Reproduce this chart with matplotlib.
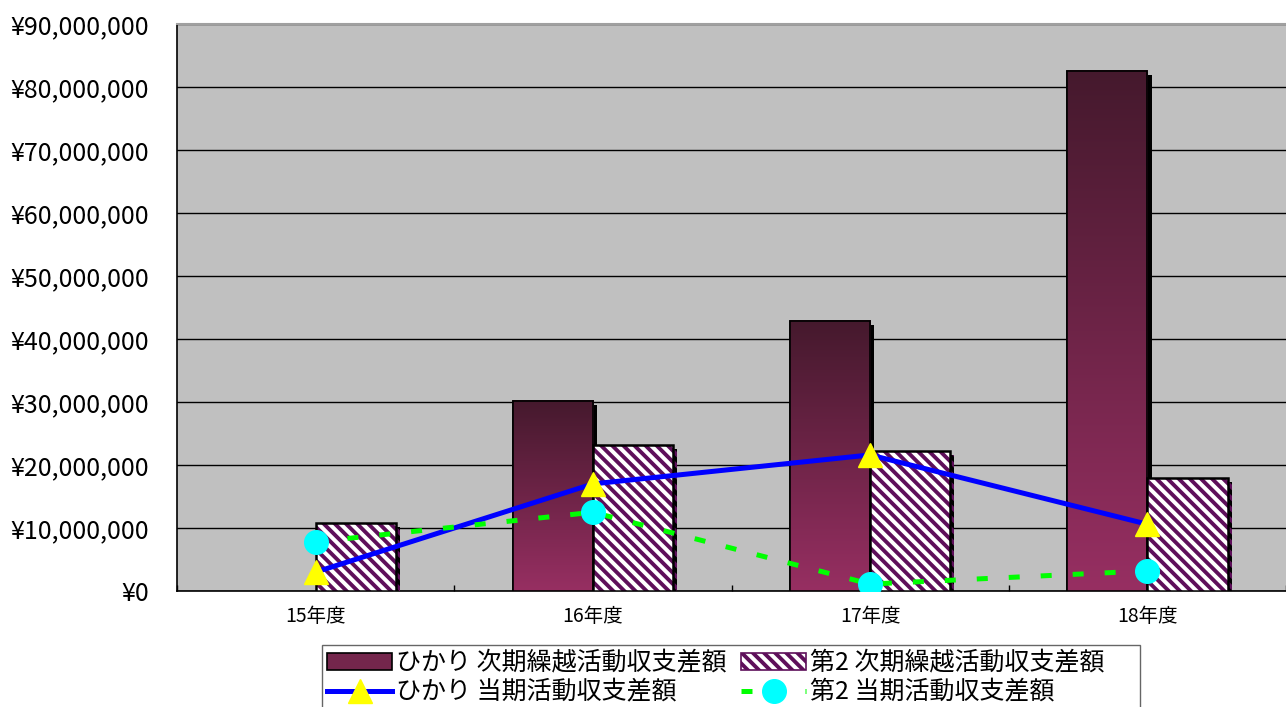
"""
Hikari / Dai-2 activity balance chart: bars (carried-over balance) plus lines (current balance).
"""

import matplotlib
matplotlib.use("Agg")
import matplotlib.pyplot as plt
import matplotlib.patheffects as pe
import numpy as np
from matplotlib.colors import LinearSegmentedColormap
from matplotlib.lines import Line2D
from matplotlib.patches import Rectangle
from matplotlib.ticker import FuncFormatter, MultipleLocator

plt.rcParams["font.family"] = ["Noto Sans CJK JP", "DejaVu Sans"]
plt.rcParams["hatch.linewidth"] = 2.8

# ── Data ──────────────────────────────────────────────────────────────
categories = ["15年度", "16年度", "17年度", "18年度"]
hikari_carry = [0, 30_200_000, 42_900_000, 82_600_000]
dai2_carry = [10_800_000, 23_200_000, 22_200_000, 17_900_000]
hikari_current = [3_000_000, 17_000_000, 21_600_000, 10_600_000]
dai2_current = [7_800_000, 12_500_000, 1_100_000, 3_200_000]

labels = [
    "ひかり 次期繰越活動収支差額",
    "第2 次期繰越活動収支差額",
    "ひかり 当期活動収支差額",
    "第2 当期活動収支差額",
]

HATCH_COL = "#5E0F5A"
HATCH = "\\\\\\"

fig = plt.figure(figsize=(12.86, 7.07), dpi=100)
ax = fig.add_axes([177 / 1286, 1 - 591 / 707, 1 - 177 / 1286, (591 - 24) / 707])
ax.set_facecolor("#C0C0C0")

x = np.arange(len(categories))
w = 0.289
shadow = [pe.SimplePatchShadow(offset=(3, -3), shadow_rgbFace="black", alpha=1.0), pe.Normal()]

# ── Bars ──────────────────────────────────────────────────────────────
grad_cmap = LinearSegmentedColormap.from_list("wine", ["#972F62", "#45192D"])
grad = np.linspace(0, 1, 256).reshape(-1, 1)

dark_bars = ax.bar(x - w / 2, hikari_carry, width=w, facecolor="#7A2850",
                   edgecolor="black", linewidth=1.2, zorder=3, path_effects=shadow)
for rect, val in zip(dark_bars, hikari_carry):
    if val <= 0:
        rect.set_visible(False)
        continue
    x0 = rect.get_x()
    ax.imshow(grad, extent=[x0, x0 + w, 0, val], origin="lower", aspect="auto",
              cmap=grad_cmap, zorder=3.5)
    ax.add_patch(Rectangle((x0, 0), w, val, facecolor="none", edgecolor="black",
                           linewidth=1.2, zorder=3.6))

# hatch colour follows the edge colour, so draw the black outline separately
hatch_bars = ax.bar(x + w / 2, dai2_carry, width=w, facecolor="white",
                    edgecolor=HATCH_COL, hatch=HATCH, linewidth=0.5, zorder=3,
                    path_effects=shadow)
for rect in hatch_bars:
    ax.add_patch(Rectangle((rect.get_x(), 0), w, rect.get_height(),
                           facecolor="none", edgecolor="black",
                           linewidth=1.8, zorder=3.7))

# ── Lines ─────────────────────────────────────────────────────────────
blue_line, = ax.plot(x, hikari_current, color="#0000FF", linewidth=3.6,
                     marker="^", markersize=17, markerfacecolor="#FFFF00",
                     markeredgecolor="#FFFF00", zorder=5)
green_line, = ax.plot(x, dai2_current, color="#00FF00", linewidth=3.6,
                      dashes=(2.2, 4.2), marker="o", markersize=17,
                      markerfacecolor="#00FFFF", markeredgecolor="#00FFFF", zorder=5)

# ── Axes styling ──────────────────────────────────────────────────────
ax.set_xlim(-0.5, len(categories) - 0.5)
ax.set_ylim(0, 90_000_000)
ax.yaxis.set_major_locator(MultipleLocator(10_000_000))
ax.yaxis.set_major_formatter(FuncFormatter(lambda v, _: f"¥{int(v):,}"))
ax.yaxis.grid(True, color="black", linewidth=1.0, zorder=1)
ax.set_axisbelow(True)
ax.tick_params(axis="y", length=0, pad=20, labelsize=18)

ax.set_xticks(x)
ax.set_xticklabels(categories)
ax.set_xticks(np.arange(len(categories) + 1) - 0.5, minor=True)
ax.tick_params(axis="x", which="major", length=0, pad=11, labelsize=14)
ax.tick_params(axis="x", which="minor", direction="in", length=4, width=1)

for side in ("left", "bottom"):
    ax.spines[side].set_color("black")
    ax.spines[side].set_linewidth(1.2)
ax.spines["top"].set_color("#A0A0A0")
ax.spines["top"].set_linewidth(1.5)
ax.spines["right"].set_visible(False)

# ── Legend (proxies, without the bar shadows) ─────────────────────────
h_dark = Rectangle((0, 0), 1, 1, facecolor="#74264C", edgecolor="black", linewidth=1.2)
h_hatch = Rectangle((0, 0), 1, 1, facecolor="white", edgecolor=HATCH_COL,
                    hatch=HATCH, linewidth=1.2)
h_blue = Line2D([], [], color="#0000FF", linewidth=3.6, marker="^", markersize=17,
                markerfacecolor="#FFFF00", markeredgecolor="#FFFF00")
h_green = Line2D([], [], color="#00FF00", linewidth=3.6, dashes=(2.2, 4.2),
                 marker="o", markersize=17, markerfacecolor="#00FFFF",
                 markeredgecolor="#00FFFF")

leg = fig.legend(
    [h_dark, h_blue, h_hatch, h_green],
    [labels[0], labels[2], labels[1] + "\u3000 ", labels[3]],
    ncol=2, loc="upper left", bbox_to_anchor=(322 / 1286, 1 - 645 / 707),
    fontsize=18, frameon=True, fancybox=False, edgecolor="#404040",
    handlelength=2.6, handletextpad=0.15, columnspacing=0.6,
    borderaxespad=0, borderpad=0.2, labelspacing=0.15,
)
leg.get_frame().set_linewidth(1.0)

fig.savefig("out.png", dpi=100)
